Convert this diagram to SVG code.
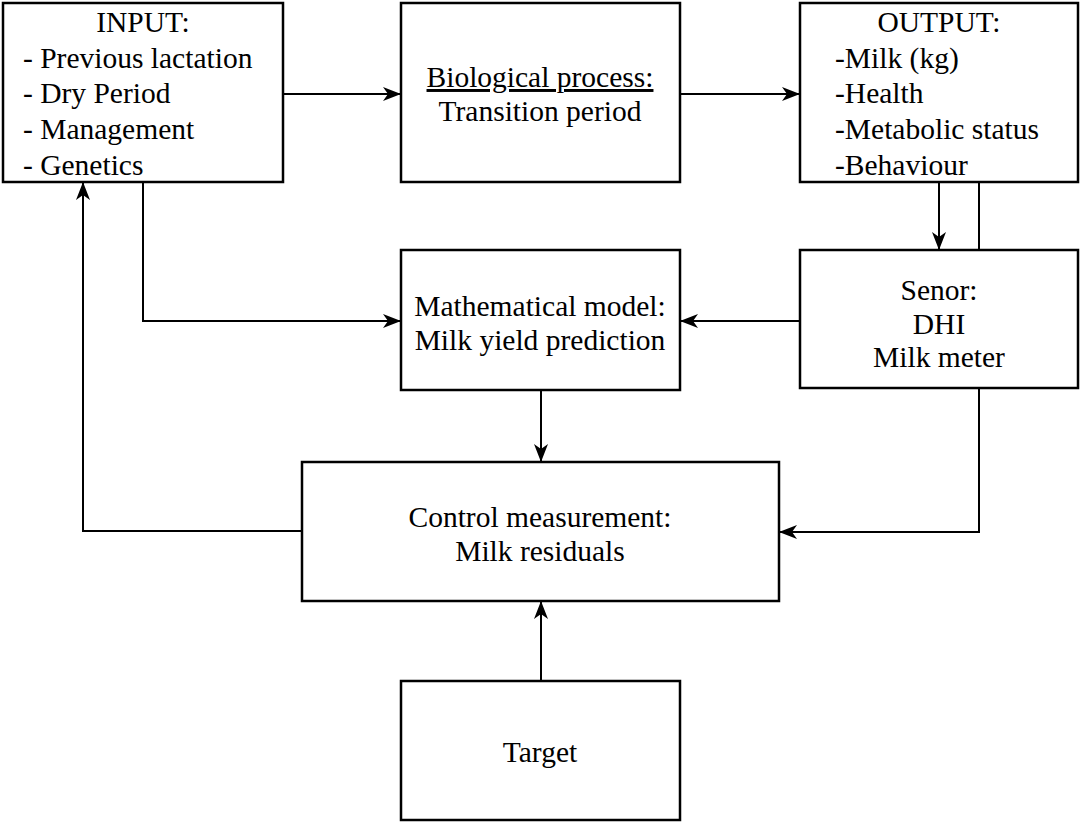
<svg xmlns="http://www.w3.org/2000/svg" width="1081" height="822" viewBox="0 0 1081 822">
<style>
.box{fill:#fff;stroke:#000;stroke-width:2.5}
.t{font-family:"Liberation Serif","Times New Roman",serif;font-size:29.5px;fill:#000}
.c{text-anchor:middle}
.ln{fill:none;stroke:#000;stroke-width:2}
</style>
<defs>
<marker id="ah" viewBox="0 0 18 14" refX="17" refY="7" markerWidth="18" markerHeight="14" orient="auto" markerUnits="userSpaceOnUse">
<path d="M0,0 L18,7 L0,14 L5,7 Z" fill="#000"/>
</marker>
</defs>
<rect width="1081" height="822" fill="#fff"/>
<g id="connectors">
<path class="ln" d="M283,94 H400" marker-end="url(#ah)"/>
<path class="ln" d="M680,94 H799" marker-end="url(#ah)"/>
<path class="ln" d="M939,182 V249" marker-end="url(#ah)"/>
<path class="ln" d="M979,182 V250"/>
<path class="ln" d="M800,321 H681" marker-end="url(#ah)"/>
<path class="ln" d="M143,182 V321 H400" marker-end="url(#ah)"/>
<path class="ln" d="M541,390 V461" marker-end="url(#ah)"/>
<path class="ln" d="M979,388 V532 H780" marker-end="url(#ah)"/>
<path class="ln" d="M302,531 H83 V183" marker-end="url(#ah)"/>
<path class="ln" d="M541,681 V602" marker-end="url(#ah)"/>
</g>
<g id="input">
<rect class="box" x="3" y="3" width="280" height="179"/>
<text class="t c" x="143" y="32">INPUT:</text>
<text class="t" x="23" y="67.5">- Previous lactation</text>
<text class="t" x="23" y="103">- Dry Period</text>
<text class="t" x="23" y="139">- Management</text>
<text class="t" x="23" y="175">- Genetics</text>
</g>
<g id="bio">
<rect class="box" x="401" y="3" width="279" height="179"/>
<text class="t c" x="540" y="87" text-decoration="underline">Biological process:</text>
<text class="t c" x="540" y="121">Transition period</text>
</g>
<g id="output">
<rect class="box" x="800" y="3" width="278" height="179"/>
<text class="t c" x="939" y="32">OUTPUT:</text>
<text class="t" x="835" y="67.5">-Milk (kg)</text>
<text class="t" x="835" y="103">-Health</text>
<text class="t" x="835" y="139">-Metabolic status</text>
<text class="t" x="835" y="175">-Behaviour</text>
</g>
<g id="sensor">
<rect class="box" x="800" y="250" width="278" height="138"/>
<text class="t c" x="939" y="300">Senor:</text>
<text class="t c" x="939" y="334">DHI</text>
<text class="t c" x="939" y="367">Milk meter</text>
</g>
<g id="model">
<rect class="box" x="401" y="250" width="279" height="140"/>
<text class="t c" x="540" y="316">Mathematical model:</text>
<text class="t c" x="540" y="350">Milk yield prediction</text>
</g>
<g id="control">
<rect class="box" x="302" y="462" width="477" height="139"/>
<text class="t c" x="540" y="527">Control measurement:</text>
<text class="t c" x="540" y="561">Milk residuals</text>
</g>
<g id="target">
<rect class="box" x="401" y="681" width="279" height="139"/>
<text class="t c" x="540" y="762">Target</text>
</g>
</svg>
